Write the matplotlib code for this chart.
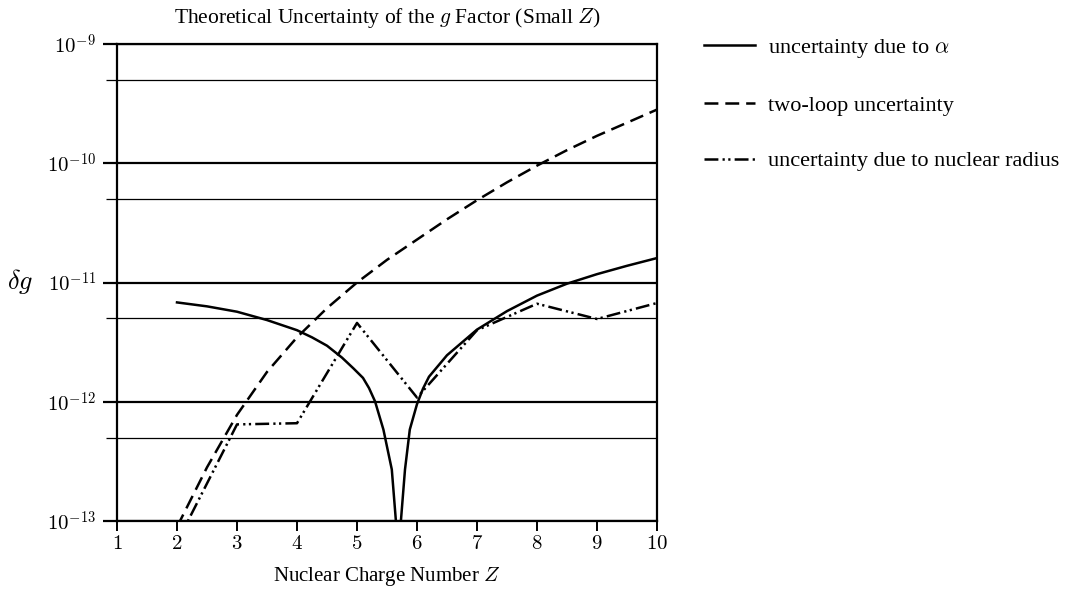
import numpy as np
import matplotlib
matplotlib.use('Agg')
import matplotlib.pyplot as plt
from matplotlib.ticker import FixedLocator, NullFormatter

# 字体设置：正文用 Times 风格，公式用 Computer Modern
plt.rcParams['font.family'] = ['Liberation Serif', 'DejaVu Serif']
plt.rcParams['mathtext.fontset'] = 'cm'
plt.rcParams['lines.scale_dashes'] = False

# 数据（从图中读取，log10 值）
z_alpha = [2.0, 2.5, 3.0, 3.5, 4.0, 4.25, 4.5, 4.75, 4.94, 5.1, 5.2, 5.3, 5.44, 5.58, 5.65,
           5.69, 5.73, 5.80, 5.88, 6.0, 6.1, 6.2, 6.5, 7.0, 7.5, 8.0, 8.5, 9.0, 9.5, 10.0]
log_alpha = [-11.167, -11.20, -11.245, -11.315, -11.40, -11.46, -11.53, -11.63, -11.72,
             -11.80, -11.885, -11.996, -12.233, -12.568, -13.01, -14.0, -13.01, -12.568,
             -12.233, -12.02, -11.89, -11.79, -11.61, -11.395, -11.24, -11.11, -11.01,
             -10.93, -10.86, -10.795]

z_loop = [2.0, 2.5, 3.0, 3.5, 4.0, 4.5, 5.0, 5.5, 6.0, 6.5, 7.0, 7.5, 8.0, 8.5,
          9.0, 9.5, 10.0]
log_loop = [-13.05, -12.55, -12.11, -11.75, -11.46, -11.215, -11.00, -10.81, -10.64,
            -10.47, -10.31, -10.16, -10.02, -9.89, -9.77, -9.66, -9.55]

z_radius = [2, 3, 4, 5, 6, 7, 8, 9, 10]
log_radius = [-13.18, -12.19, -12.18, -11.339, -11.965, -11.40, -11.178, -11.306, -11.172]

major_y = [1e-13, 1e-12, 1e-11, 1e-10, 1e-9]
minor_y = [5e-13, 5e-12, 5e-11, 5e-10]
x_ticks = list(range(1, 11))

fig = plt.figure(figsize=(10.68, 5.94), dpi=100)
ax = fig.add_axes([117 / 1068, 1 - 521 / 594, 540 / 1068, 477 / 594])

lw = 1.8
ax.plot(z_alpha, 10 ** np.array(log_alpha), color='black', lw=lw,
        label=r'uncertainty due to $\alpha$')
ax.plot(z_loop, 10 ** np.array(log_loop), color='black', lw=lw,
        linestyle=(0, (10, 5)), label='two-loop uncertainty')
ax.plot(z_radius, 10 ** np.array(log_radius), color='black', lw=lw,
        linestyle=(0, (10, 3, 1.6, 2.5, 1.6, 3)), label='uncertainty due to nuclear radius')

ax.set_yscale('log')
ax.set_xlim(1, 10)
ax.set_ylim(1e-13, 1e-9)

# 网格线：主刻度粗，次刻度细
for v in major_y:
    ax.axhline(v, color='black', lw=1.6, zorder=1)
for v in minor_y:
    ax.axhline(v, color='black', lw=0.9, zorder=1)

ax.yaxis.set_major_locator(FixedLocator(major_y))
ax.yaxis.set_minor_locator(FixedLocator(minor_y))
ax.yaxis.set_minor_formatter(NullFormatter())
ax.set_yticklabels([r'$10^{-13}$', r'$10^{-12}$', r'$10^{-11}$', r'$10^{-10}$', r'$10^{-9}$'])
ax.set_xticks(x_ticks)
ax.set_xticklabels([r'$%d$' % v for v in x_ticks])

ax.tick_params(axis='y', which='major', direction='out', length=10, width=1.6,
               labelsize=15, pad=5)
ax.tick_params(axis='y', which='minor', direction='out', length=8, width=0.9)
ax.tick_params(axis='x', which='major', direction='out', length=7, width=1.4,
               labelsize=15, pad=3)

for s in ax.spines.values():
    s.set_linewidth(1.6)

fig.text(387 / 1068, 1 - 23 / 594, r'Theoretical Uncertainty of the $g$ Factor (Small $Z$)',
         fontsize=15.5, ha='center', va='baseline')
fig.text(387 / 1068, 1 - 581 / 594, r'Nuclear Charge Number $Z$',
         fontsize=15, ha='center', va='baseline')
fig.text(20 / 1068, 1 - 282 / 594, r'$\delta g$', fontsize=19, ha='center', va='center')

fig.legend(loc='upper left', bbox_to_anchor=(704 / 1068, 1 - 37 / 594), frameon=False,
           fontsize=16, handlelength=2.3, handletextpad=0.6, labelspacing=1.58,
           borderpad=0, borderaxespad=0)

fig.savefig('out.png', dpi=100)
